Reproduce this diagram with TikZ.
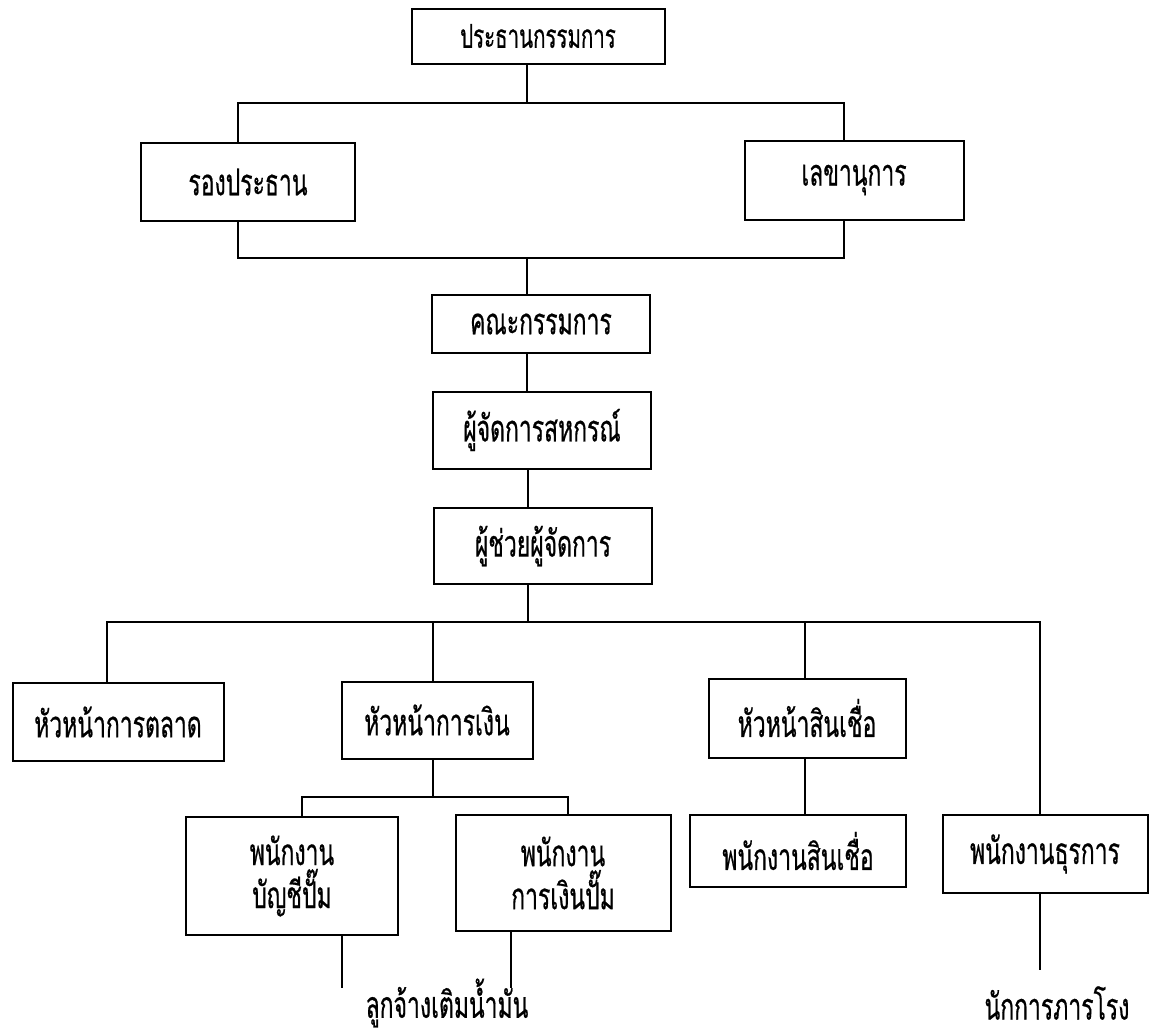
\documentclass[tikz,border=0pt]{standalone}
\usepackage{fontspec}
\newfontfamily\thaifont[Script=Thai,FakeStretch=0.62,FakeBold=0.5]{Loma}
\begin{document}
\begin{tikzpicture}[x=1pt,y=-1pt,
  main/.style={draw, rectangle, line width=2pt, inner sep=0pt, align=center, font=\thaifont\fontsize{37}{43}\selectfont},
  txt/.style={inner sep=0pt, font=\thaifont\fontsize{37}{43}\selectfont},
  link/.style={line width=1.5pt}]
\useasboundingbox (0,0) rectangle (1159,1034);

% top levels
\node[main, minimum width=253, minimum height=55, font=\thaifont\fontsize{33}{38}\selectfont] (0) at (538,36) {ประธานกรรมการ};
\node[main, minimum width=214, minimum height=78] (1) at (248,182) {รองประธาน};
\node[main, minimum width=219, minimum height=79] (2) at (854,180) {เลขานุการ};
\node[main, minimum width=218, minimum height=58] (3) at (541,324) {คณะกรรมการ};
\node[main, minimum width=218, minimum height=77] (4) at (542,430) {ผู้จัดการสหกรณ์};
\node[main, minimum width=218, minimum height=76] (5) at (543,546) {ผู้ช่วยผู้จัดการ};

% heads
\node[main, minimum width=211, minimum height=78] (6) at (118,722) {หัวหน้าการตลาด};
\node[main, minimum width=191, minimum height=77] (7) at (437,720) {หัวหน้าการเงิน};
\node[main, minimum width=197, minimum height=79] (8) at (807,718) {หัวหน้าสินเชื่อ};

% staff
\node[main, minimum width=212, minimum height=118] (11) at (292,876) {พนักงาน\\บัญชีปั๊ม};
\node[main, minimum width=215, minimum height=116] (12) at (563,873) {พนักงาน\\การเงินปั๊ม};
\node[main, minimum width=216, minimum height=72] (10) at (798,851) {พนักงานสินเชื่อ};
\node[main, minimum width=205, minimum height=78] (9) at (1045,854) {พนักงานธุรการ};

\node[txt] (13) at (447,1003) {ลูกจ้างเติมน้ำมัน};
\node[txt] (14) at (1057,1003) {นักการภารโรง};

% branch points
\coordinate (a) at (527,103);
\coordinate (b) at (527,258);
\coordinate (c) at (528,622);
\coordinate (d) at (433,797);
\coordinate (e11) at (342,988);
\coordinate (e12) at (511,988);
\coordinate (e9) at (1040,970);

\draw[link] (0.south -| a) -- (a);
\draw[link] ([xshift=-10pt]1.north) |- (a) -| ([xshift=-10pt]2.north);
\draw[link] ([xshift=-10pt]1.south) |- (b) -| ([xshift=-10pt]2.south);
\draw[link] (b) -- (3.north -| b);
\draw[link] (3.south -| b) -- (4.north -| b);
\draw[link] (4.south -| c) -- (5.north -| c);
\draw[link] (5.south -| c) -- (c);
\draw[link] ([xshift=-11pt]6.north) |- (c) -| ([xshift=-5pt]9.north);
\draw[link] (7.north -| d) -- (d |- c);
\draw[link] ([xshift=-2pt]8.north) -- ([xshift=-2pt]8.north |- c);
\draw[link] ([xshift=-2pt]8.south) -- ([xshift=-2pt]8.south |- 10.north);
\draw[link] (7.south -| d) -- (d);
\draw[link] ([xshift=10pt]11.north) |- (d) -| ([xshift=5pt]12.north);
\draw[link] (11.south -| e11) -- (e11);
\draw[link] (12.south -| e12) -- (e12);
\draw[link] (9.south -| e9) -- (e9);
\end{tikzpicture}
\end{document}
